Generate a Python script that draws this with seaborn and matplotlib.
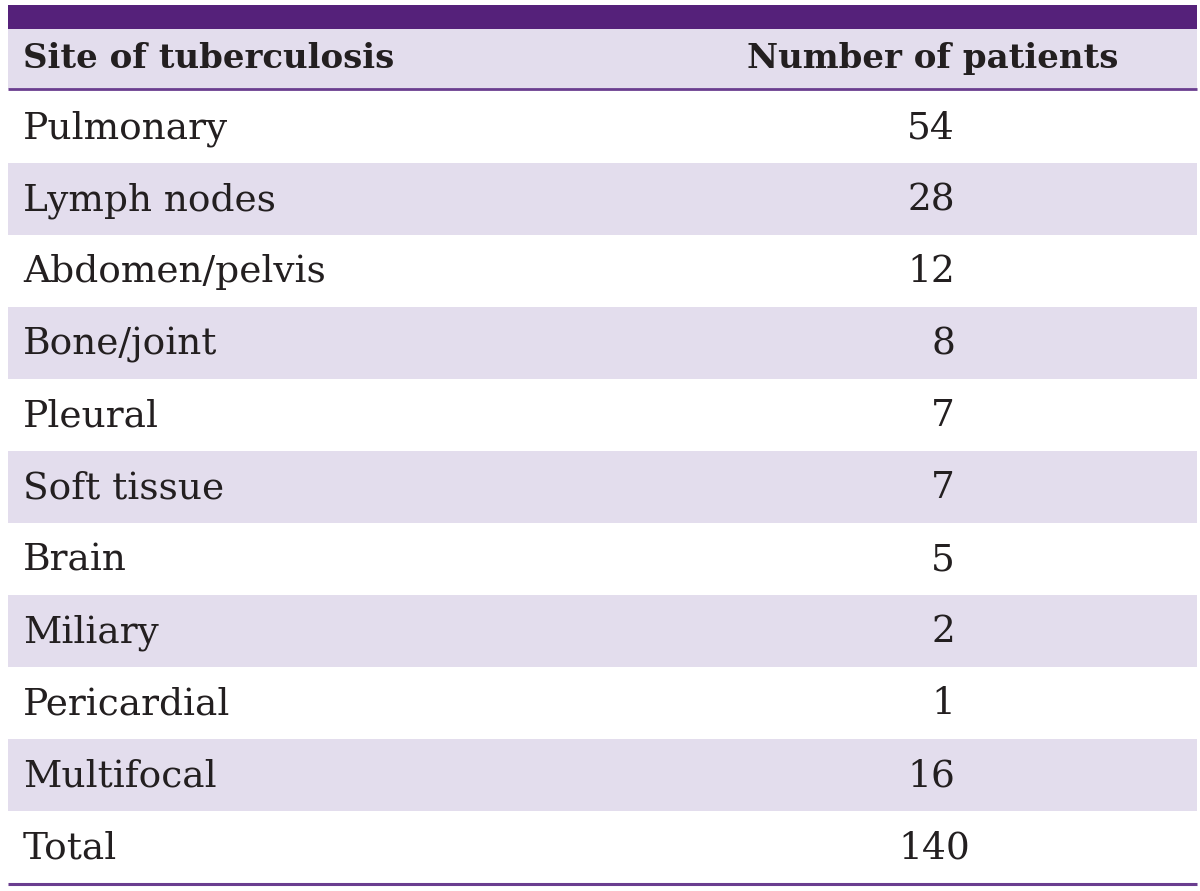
import matplotlib
matplotlib.use("Agg")
import matplotlib.pyplot as plt
import seaborn as sns
import pandas as pd

sites = ["Pulmonary", "Lymph nodes", "Abdomen/pelvis", "Bone/joint", "Pleural",
         "Soft tissue", "Brain", "Miliary", "Pericardial", "Multifocal", "Total"]
patients = [54, 28, 12, 8, 7, 7, 5, 2, 1, 16, 140]
headers = ["Site of tuberculosis", "Number of patients"]

df = pd.DataFrame({"site": sites, "n": patients})

sns.set_theme(style="white")
plt.rcParams["font.family"] = ["DejaVu Serif"]

W, H = 1200, 891
fig = plt.figure(figsize=(12, 8.91), dpi=100)
ax = fig.add_axes([0, 0, 1, 1])
ax.set_xlim(0, W)
ax.set_ylim(H, 0)
ax.axis("off")

purple = "#55217A"
shade = "#E3DDED"
line_c = "#6A3D8F"
text_c = "#231F20"

x0, x1 = 8, 1197
# top bar
ax.add_patch(plt.Rectangle((x0, 5), x1 - x0, 24, color=purple, lw=0))
# header band
ax.add_patch(plt.Rectangle((x0, 29), x1 - x0, 59.5, color=shade, lw=0))
ax.plot([x0, x1], [89.3, 89.3], color=line_c, lw=2.0, solid_capstyle="butt")

top = 90.5
rh = (882.5 - top) / len(df)
for i, row in df.iterrows():
    y = top + i * rh
    if i % 2 == 1:
        ax.add_patch(plt.Rectangle((x0, y), x1 - x0, rh, color=shade, lw=0))
    yc = y + rh / 2
    ax.text(23, yc + 12, row["site"], fontsize=27, color=text_c,
            ha="left", va="baseline")
    if row["site"] == "Total":
        ax.text(934, yc + 12, str(row["n"]), fontsize=27, color=text_c,
                ha="center", va="baseline")
    else:
        ax.text(955, yc + 12, str(row["n"]), fontsize=27, color=text_c,
                ha="right", va="baseline")

ax.plot([x0, x1], [883.8, 883.8], color=line_c, lw=2.2, solid_capstyle="butt")

ax.text(23, 68, headers[0], fontsize=24.5, fontweight="bold", color=text_c,
        ha="left", va="baseline")
ax.text(933, 68, headers[1], fontsize=24.5, fontweight="bold", color=text_c,
        ha="center", va="baseline")

fig.savefig("out.png", dpi=100)
